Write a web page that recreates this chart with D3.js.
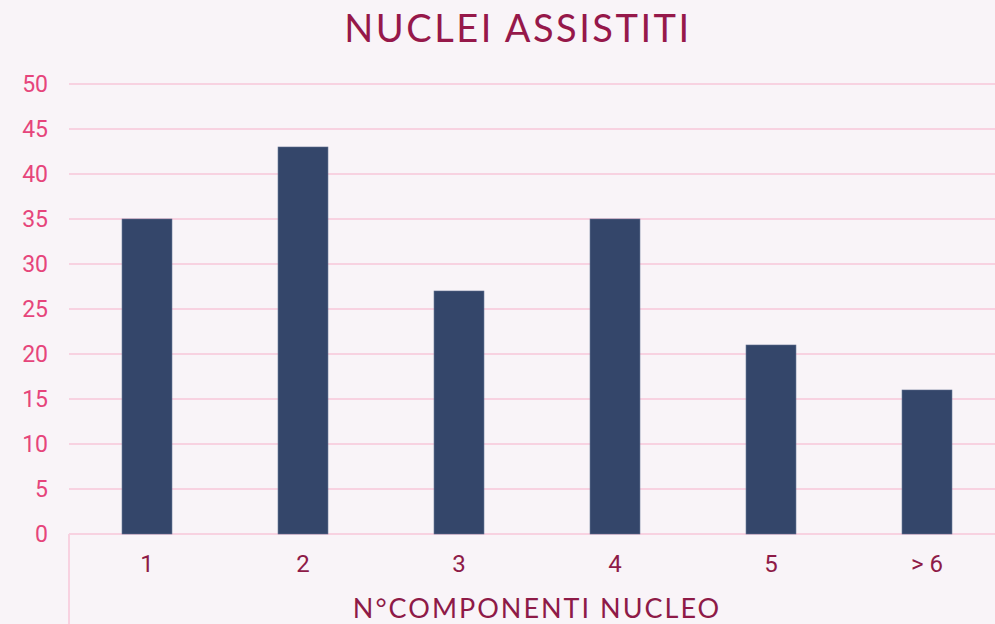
<!DOCTYPE html>
<html>
<head>
<meta charset="utf-8">
<style>
  body { margin: 0; background: #f9f4f8; }
  svg { display: block; }
</style>
</head>
<body>
<div id="chart"></div>
<script src="https://d3js.org/d3.v7.min.js"></script>
<script>
var categories = ["1", "2", "3", "4", "5", "> 6"];
var values = [35, 43, 27, 35, 21, 16];
var yTicks = [0, 5, 10, 15, 20, 25, 30, 35, 40, 45, 50];

var w = 995, h = 624;
var mLeft = 69, mRight = 1005, mTop = 84, mBottom = 534;

var svg = d3.select("#chart").append("svg").attr("width", w).attr("height", h);
svg.append("rect").attr("width", w).attr("height", h).attr("fill", "#f9f4f8");

var x = d3.scaleBand().domain(categories).range([mLeft, mRight]).paddingInner(0.68).paddingOuter(0.34);
var y = d3.scaleLinear().domain([0, 50]).range([mBottom, mTop]);

// gridlines
svg.append("g").selectAll("line").data(yTicks).enter().append("line")
  .attr("x1", mLeft).attr("x2", w)
  .attr("y1", function (d) { return y(d); })
  .attr("y2", function (d) { return y(d); })
  .attr("stroke", "#f8d2e1").attr("stroke-width", 2);

// left axis stub below baseline
svg.append("line").attr("x1", mLeft).attr("x2", mLeft).attr("y1", mBottom).attr("y2", h)
  .attr("stroke", "#f8d2e1").attr("stroke-width", 2);

// y labels
svg.append("g").selectAll("text").data(yTicks).enter().append("text")
  .text(function (d) { return d; })
  .attr("x", 48).attr("y", function (d) { return y(d); })
  .attr("dy", "0.35em").attr("text-anchor", "end")
  .attr("font-family", "Roboto, sans-serif").attr("font-size", 23)
  .attr("fill", "#e6457b");

// bars
svg.append("g").selectAll("rect").data(values).enter().append("rect")
  .attr("x", function (d, i) { return x(categories[i]); })
  .attr("y", function (d) { return y(d); })
  .attr("width", x.bandwidth())
  .attr("height", function (d) { return mBottom - y(d); })
  .attr("fill", "#34466a")
  .attr("stroke", "#5a6a8a").attr("stroke-width", 0.6);

// x labels
svg.append("g").selectAll("text").data(categories).enter().append("text")
  .text(function (d) { return d; })
  .attr("x", function (d) { return x(d) + x.bandwidth() / 2; })
  .attr("y", 572).attr("text-anchor", "middle")
  .attr("font-family", "Roboto, sans-serif").attr("font-size", 24)
  .attr("fill", "#8e1a47");

// title
svg.append("text").text("NUCLEI ASSISTITI")
  .attr("x", 518).attr("y", 42).attr("text-anchor", "middle")
  .attr("font-family", "Lato, sans-serif").attr("font-size", 38)
  .attr("letter-spacing", 2.5)
  .attr("fill", "#96184a");

// axis title
svg.append("text").text("N°COMPONENTI NUCLEO")
  .attr("x", 537).attr("y", 618).attr("text-anchor", "middle")
  .attr("font-family", "Lato, sans-serif").attr("font-size", 27)
  .attr("letter-spacing", 2)
  .attr("fill", "#8e1a47");
</script>
</body>
</html>
